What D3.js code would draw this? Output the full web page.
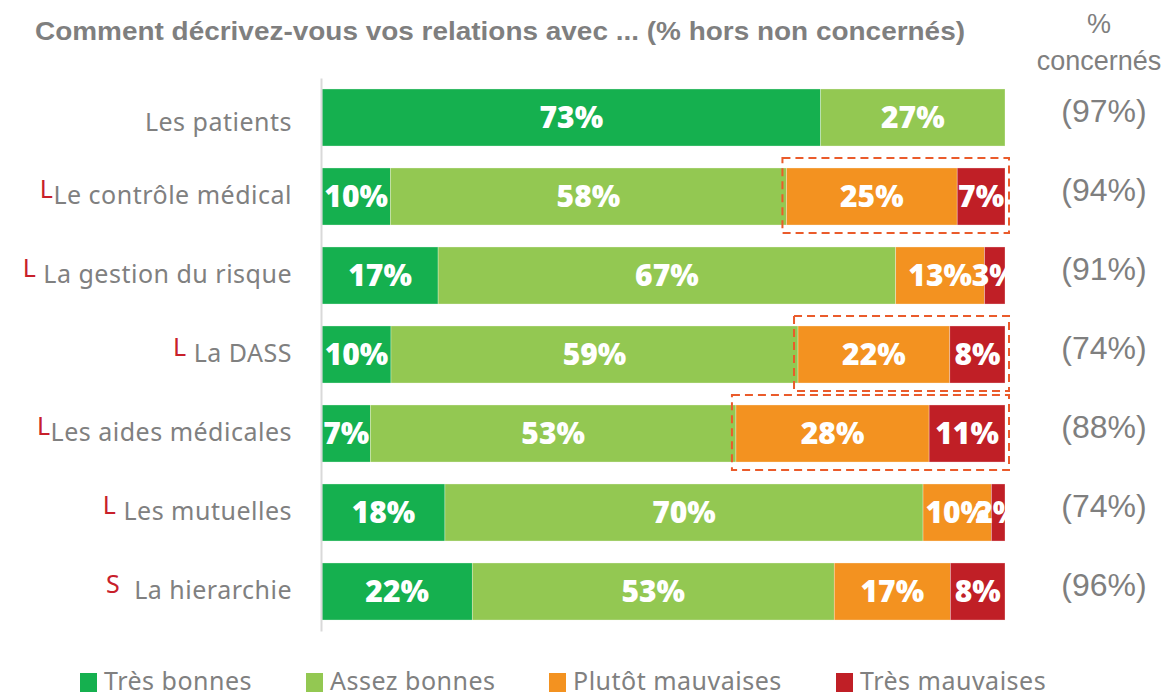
<!DOCTYPE html>
<html>
<head>
<meta charset="utf-8">
<script src="https://cdn.jsdelivr.net/npm/d3@7"></script>
<style>
  body { margin: 0; background: #fff; }
  svg { display: block; }
</style>
</head>
<body>
<svg width="1167" height="692"></svg>
<script>
// categories (top to bottom) and their red markers
var categories = ["Les patients", "Le contrôle médical", "La gestion du risque", "La DASS",
                  "Les aides médicales", "Les mutuelles", "La hierarchie"];
var markers = ["", "L", "L ", "L ", "L", "L ", "S  "];

// series values
var tresBonnes       = [73, 10, 17, 10, 7, 18, 22];
var assezBonnes      = [27, 58, 67, 59, 53, 70, 53];
var plutotMauvaises  = [0, 25, 13, 22, 28, 10, 17];
var tresMauvaises    = [0, 7, 3, 8, 11, 2, 8];
var concernes        = [97, 94, 91, 74, 88, 74, 96];
var encadres         = ["Le contrôle médical", "La DASS", "Les aides médicales"];

var seriesNames = ["Très bonnes", "Assez bonnes", "Plutôt mauvaises", "Très mauvaises"];
var couleurs = ["#15b04f", "#93c852", "#f39220", "#c01f26"];

var table = categories.map(function (c, i) {
  return {
    cat: c,
    "Très bonnes": tresBonnes[i],
    "Assez bonnes": assezBonnes[i],
    "Plutôt mauvaises": plutotMauvaises[i],
    "Très mauvaises": tresMauvaises[i]
  };
});

var svg = d3.select("svg");

var x = d3.scaleLinear().domain([0, 1]).range([322, 1005]);
var y = d3.scaleBand().domain(categories).range([78, 631]).paddingInner(0.278).paddingOuter(0.139);
var color = d3.scaleOrdinal().domain(seriesNames).range(couleurs);

var stack = d3.stack().keys(seriesNames).offset(d3.stackOffsetExpand);
var series = stack(table);

var gris = "#7f7f7f";

// title
svg.append("text")
  .attr("x", 35)
  .attr("y", 40)
  .attr("textLength", 930)
  .attr("lengthAdjust", "spacingAndGlyphs")
  .style("font-family", "'Liberation Sans', Arial, sans-serif")
  .style("font-weight", "bold")
  .style("font-size", "25px")
  .style("fill", gris)
  .text("Comment décrivez-vous vos relations avec ... (% hors non concernés)");

svg.append("text")
  .attr("x", 1099).attr("y", 33)
  .attr("text-anchor", "middle")
  .style("font-family", "'Liberation Sans', Arial, sans-serif")
  .style("font-size", "27px")
  .style("fill", gris)
  .text("%");
svg.append("text")
  .attr("x", 1099).attr("y", 70)
  .attr("text-anchor", "middle")
  .style("font-family", "'Liberation Sans', Arial, sans-serif")
  .style("font-size", "27px")
  .style("fill", gris)
  .text("concernés");

// bars
svg.append("g")
  .selectAll("g")
  .data(series)
  .enter()
  .append("g")
  .attr("fill", function (d) { return color(d.key); })
  .selectAll("rect")
  .data(function (d) { return d; })
  .enter()
  .append("rect")
  .attr("x", function (d) { return x(d[0]); })
  .attr("y", function (d) { return y(d.data.cat); })
  .attr("width", function (d) { return x(d[1]) - x(d[0]); })
  .attr("height", y.bandwidth())
  .attr("stroke", "#ffffff")
  .attr("stroke-opacity", 0.5)
  .attr("stroke-width", 0.6);

// axis line
var eje = svg.append("g")
  .attr("transform", "translate(321,0)")
  .call(d3.axisLeft(y).tickSize(0).tickFormat(""));
eje.select(".domain").attr("stroke", "#d9d9d9").attr("stroke-width", 2);

// labels on bars, clipped to plot area
svg.append("clipPath").attr("id", "recorte")
  .append("rect").attr("x", 322).attr("y", 70).attr("width", 683).attr("height", 570);

var etiquetas = svg.append("g").attr("clip-path", "url(#recorte)");
series.forEach(function (s) {
  etiquetas.selectAll(null)
    .data(s.filter(function (d) { return d.data[s.key] > 0; }))
    .enter()
    .append("text")
    .attr("x", function (d) { return (x(d[0]) + x(d[1])) / 2; })
    .attr("y", function (d) { return y(d.data.cat) + y.bandwidth() / 2; })
    .attr("dy", "0.36em")
    .attr("text-anchor", "middle")
    .style("font-family", "'Open Sans', sans-serif")
    .style("font-weight", "800")
    .style("font-size", "30px")
    .style("fill", "#ffffff")
    .text(function (d) { return d.data[s.key] + "%"; });
});

// dashed boxes around the negative part
svg.append("g")
  .selectAll("rect")
  .data(table.filter(function (d) { return encadres.indexOf(d.cat) >= 0; }))
  .enter()
  .append("rect")
  .attr("x", function (d) {
    var s = series[1].find(function (e) { return e.data.cat === d.cat; });
    return x(s[1]) - 4;
  })
  .attr("y", function (d) { return y(d.cat) - 10; })
  .attr("width", function (d) {
    var s = series[1].find(function (e) { return e.data.cat === d.cat; });
    return x(1) + 4 - (x(s[1]) - 4);
  })
  .attr("height", y.bandwidth() + 18)
  .attr("fill", "none")
  .attr("stroke", "#ea5b2b")
  .attr("stroke-width", 2)
  .attr("stroke-dasharray", "8,5");

// category labels with red markers
var cats = svg.append("g")
  .selectAll("text")
  .data(categories)
  .enter()
  .append("text")
  .attr("x", 292)
  .attr("y", function (d) { return y(d) + y.bandwidth() / 2 + 7; })
  .attr("text-anchor", "end")
  .style("font-family", "'Noto Sans', sans-serif")
  .style("font-size", "25px")
  .style("letter-spacing", "0.5px")
  .style("white-space", "pre")
  .attr("xml:space", "preserve");

cats.append("tspan")
  .attr("dy", -6)
  .style("fill", "#c8202a")
  .style("font-size", "25px")
  .text(function (d, i) { return markers[i]; });
cats.append("tspan")
  .attr("dy", 6)
  .style("fill", "#808080")
  .text(function (d) { return d; });

// % concernés column
svg.append("g")
  .selectAll("text")
  .data(categories)
  .enter()
  .append("text")
  .attr("x", 1104)
  .attr("y", function (d) { return y(d) + y.bandwidth() / 2 + 4; })
  .attr("text-anchor", "middle")
  .style("font-family", "'Liberation Sans', Arial, sans-serif")
  .style("font-size", "32px")
  .style("fill", gris)
  .text(function (d, i) { return "(" + concernes[i] + "%)"; });

// legend
var leyendaX = [80, 306, 549, 836];
var leyenda = svg.append("g")
  .selectAll("g")
  .data(seriesNames)
  .enter()
  .append("g")
  .attr("transform", function (d, i) { return "translate(" + leyendaX[i] + ",673)"; });
leyenda.append("rect")
  .attr("width", 17)
  .attr("height", 19)
  .attr("fill", function (d) { return color(d); });
leyenda.append("text")
  .attr("x", 24)
  .attr("y", 17)
  .style("font-family", "'Noto Sans', sans-serif")
  .style("font-size", "25px")
  .style("letter-spacing", "0.5px")
  .style("fill", "#808080")
  .text(function (d) { return d; });
</script>
</body>
</html>
